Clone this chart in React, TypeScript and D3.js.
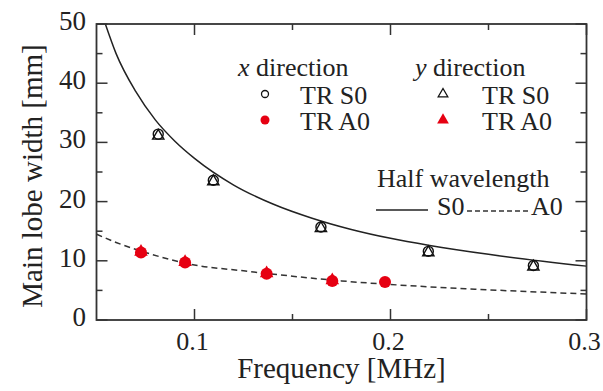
import React from "react";
import * as d3 from "d3";

// ---- data ----
const xTicks = [0.1, 0.2, 0.3];
const xMinorTicks = [0.15, 0.25];
const yTicks = [0, 10, 20, 30, 40, 50];
const yMinorTicks = [5, 15, 25, 35, 45];

// x direction, TR S0 (open circles)
const xDirS0Freq = [0.0815, 0.1096, 0.1645, 0.2193, 0.2729];
const xDirS0Width = [31.4, 23.6, 15.7, 11.6, 9.2];
// y direction, TR S0 (open triangles)
const yDirS0Freq = [0.0815, 0.1096, 0.1645, 0.2193, 0.2729];
const yDirS0Width = [31.1, 23.4, 15.5, 11.4, 9.0];
// x direction, TR A0 (red circles)
const xDirA0Freq = [0.0727, 0.0952, 0.1368, 0.1703, 0.1972];
const xDirA0Width = [11.4, 9.7, 7.8, 6.6, 6.4];
// y direction, TR A0 (red triangles)
const yDirA0Freq = [0.0727, 0.0952, 0.1368, 0.1703];
const yDirA0Width = [11.5, 9.8, 7.9, 6.7];

// Half wavelength curves
const s0CurveFreq = [0.054, 0.06, 0.07, 0.08, 0.09, 0.1, 0.12, 0.14, 0.16, 0.18, 0.2, 0.22, 0.25, 0.3];
const s0CurveWidth = [50.5, 45, 38.6, 33.8, 30.2, 27.3, 22.8, 19.6, 17.2, 15.3, 13.8, 12.6, 11.1, 9.1];
const a0CurveFreq = [0.05, 0.06, 0.075, 0.1, 0.125, 0.15, 0.175, 0.2, 0.25, 0.3];
const a0CurveWidth = [14.5, 13.1, 11.4, 9.3, 8.3, 7.4, 6.6, 6.0, 5.1, 4.4];

const W = 603;
const H = 391;
const L = 96.5, R = 586.5, T = 24, B = 320;
const RED = "#e60012";
const AXIS = "#333";
const FONT = "Liberation Serif, Tinos, Times New Roman, DejaVu Serif, serif";

export default function App() {
  const x = d3.scaleLinear().domain([0.05, 0.3]).range([L, R]);
  const y = d3.scaleLinear().domain([0, 50]).range([B, T]);

  const line = d3
    .line<[number, number]>()
    .x((d) => x(d[0]))
    .y((d) => y(d[1]))
    .curve(d3.curveMonotoneX);

  const s0Path = line(s0CurveFreq.map((f, i) => [f, s0CurveWidth[i]] as [number, number])) || "";
  const a0Path = line(a0CurveFreq.map((f, i) => [f, a0CurveWidth[i]] as [number, number])) || "";

  const triSmall = d3.symbol(d3.symbolTriangle, 55)() || "";
  const triBig = d3.symbol(d3.symbolTriangle, 80)() || "";
  const triLegOpen = d3.symbol(d3.symbolTriangle, 40)() || "";
  const triLegRed = d3.symbol(d3.symbolTriangle, 60)() || "";

  const major = 11, minor = 6;
  const ts: React.CSSProperties = { fontFamily: FONT };

  return (
    <svg
      width={W}
      height={H}
      style={{ position: "absolute", left: 0, top: 0, background: "#fff", fontFamily: FONT }}
    >
      <defs>
        <clipPath id="plotClip">
          <rect x={L} y={T} width={R - L} height={B - T} />
        </clipPath>
      </defs>
      <rect x={0} y={0} width={W} height={H} fill="#fff" />

      {/* curves */}
      <g clipPath="url(#plotClip)">
        <path d={s0Path} fill="none" stroke="#222" strokeWidth={1.5} />
        <path d={a0Path} fill="none" stroke="#333" strokeWidth={1.5} strokeDasharray="6,4" />
      </g>

      {/* frame */}
      <rect x={L} y={T} width={R - L} height={B - T} fill="none" stroke={AXIS} strokeWidth={1.8} />

      {/* x ticks */}
      {xTicks.map((t) => (
        <g key={"xt" + t}>
          <line x1={x(t)} x2={x(t)} y1={B} y2={B - major} stroke={AXIS} strokeWidth={1.5} />
          <line x1={x(t)} x2={x(t)} y1={T} y2={T + major} stroke={AXIS} strokeWidth={1.5} />
          <text x={x(t) - 2} y={350} fontSize={26} textAnchor="middle" fill="#222" style={ts}>
            {t.toFixed(1)}
          </text>
        </g>
      ))}
      {xMinorTicks.map((t) => (
        <g key={"xm" + t}>
          <line x1={x(t)} x2={x(t)} y1={B} y2={B - minor} stroke={AXIS} strokeWidth={1.5} />
          <line x1={x(t)} x2={x(t)} y1={T} y2={T + minor} stroke={AXIS} strokeWidth={1.5} />
        </g>
      ))}

      {/* y ticks */}
      {yTicks.map((t) => (
        <g key={"yt" + t}>
          <line x1={L} x2={L + major} y1={y(t)} y2={y(t)} stroke={AXIS} strokeWidth={1.5} />
          <line x1={R} x2={R - major} y1={y(t)} y2={y(t)} stroke={AXIS} strokeWidth={1.5} />
          <text x={86} y={y(t) + 6} fontSize={27} textAnchor="end" fill="#222" style={ts}>
            {t}
          </text>
        </g>
      ))}
      {yMinorTicks.map((t) => (
        <g key={"ym" + t}>
          <line x1={L} x2={L + minor} y1={y(t)} y2={y(t)} stroke={AXIS} strokeWidth={1.5} />
          <line x1={R} x2={R - minor} y1={y(t)} y2={y(t)} stroke={AXIS} strokeWidth={1.5} />
        </g>
      ))}

      {/* axis titles */}
      <text x={(L + R) / 2} y={378} fontSize={29} textAnchor="middle" fill="#222" style={ts}>
        Frequency [MHz]
      </text>
      <text
        transform={`translate(42, ${(T + B) / 2 + 4}) rotate(-90)`}
        fontSize={29}
        textAnchor="middle"
        fill="#222"
        style={ts}
      >
        Main lobe width [mm]
      </text>

      {/* data points */}
      {xDirS0Freq.map((f, i) => (
        <circle key={"xs" + i} cx={x(f)} cy={y(xDirS0Width[i])} r={5} fill="none" stroke="#111" strokeWidth={1.4} />
      ))}
      {yDirS0Freq.map((f, i) => (
        <path
          key={"ys" + i}
          d={triSmall}
          transform={`translate(${x(f)}, ${y(yDirS0Width[i])})`}
          fill="none"
          stroke="#111"
          strokeWidth={1.4}
        />
      ))}
      {xDirA0Freq.map((f, i) => (
        <circle key={"xa" + i} cx={x(f)} cy={y(xDirA0Width[i])} r={6} fill={RED} />
      ))}
      {yDirA0Freq.map((f, i) => (
        <path key={"ya" + i} d={triBig} transform={`translate(${x(f)}, ${y(yDirA0Width[i])})`} fill={RED} />
      ))}

      {/* legend */}
      <g fontSize={26} fill="#222" style={ts}>
        <text x={238} y={76} style={ts}>
          <tspan fontStyle="italic">x</tspan> direction
        </text>
        <text x={415} y={76} style={ts}>
          <tspan fontStyle="italic">y</tspan> direction
        </text>
        <circle cx={265} cy={94} r={3.5} fill="none" stroke="#111" strokeWidth={1.3} />
        <text x={300} y={104} style={ts}>TR S0</text>
        <circle cx={265} cy={120} r={4.5} fill={RED} />
        <text x={300} y={130} style={ts}>TR A0</text>
        <path d={triLegOpen} transform="translate(443, 94)" fill="none" stroke="#111" strokeWidth={1.3} />
        <text x={482} y={104} style={ts}>TR S0</text>
        <path d={triLegRed} transform="translate(443, 120)" fill={RED} />
        <text x={482} y={130} style={ts}>TR A0</text>

        <text x={377} y={187} style={ts}>Half wavelength</text>
        <line x1={376} x2={428} y1={210} y2={210} stroke="#222" strokeWidth={1.5} />
        <text x={437} y={215} style={ts}>S0</text>
        <line x1={467} x2={528} y1={211} y2={211} stroke="#333" strokeWidth={1.5} strokeDasharray="5,3" />
        <text x={531} y={215} style={ts}>A0</text>
      </g>
    </svg>
  );
}
